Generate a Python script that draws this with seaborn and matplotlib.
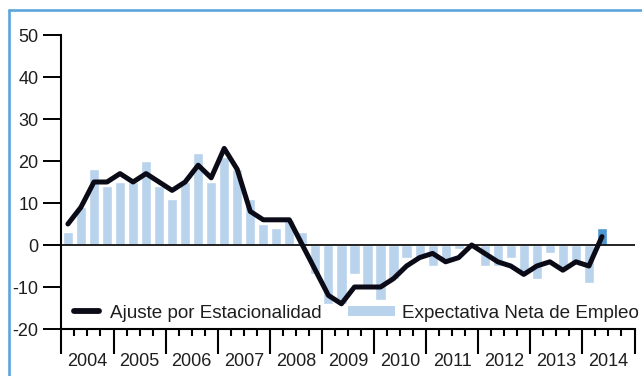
import numpy as np
import pandas as pd
import matplotlib
matplotlib.use("Agg")
import matplotlib.pyplot as plt
import matplotlib.transforms as mtransforms
from matplotlib.lines import Line2D
from matplotlib.patches import Patch
import seaborn as sns

# Quarterly periods 2004-T1 .. 2014-T2
anios = list(range(2004, 2015))
trimestres = [f"{a}-T{q}" for a in anios for q in range(1, 5)][:42]

# Net employment outlook (bars) and seasonally adjusted series (line)
expectativa = [3, 9, 18, 14, 15, 15, 20, 14, 11, 15, 22, 15, 21, 18, 11, 5,
               4, 6, 3, -7, -14, -14, -7, -10, -13, -8, -3, -3, -5, -4, -1, 0,
               -5, -5, -3, -7, -8, -2, -6, -4, -9, 4]
ajuste = [5, 9, 15, 15, 17, 15, 17, 15, 13, 15, 19, 16, 23, 18, 8, 6,
          6, 6, 0, -6, -12, -14, -10, -10, -10, -8, -5, -3, -2, -4, -3, 0,
          -2, -4, -5, -7, -5, -4, -6, -4, -5, 2]

df = pd.DataFrame({"trimestre": trimestres,
                   "expectativa": expectativa,
                   "ajuste": ajuste})
# position on a quarter axis starting at 2004-T1 (bar centred in its quarter)
df["pos"] = [(int(t[:4]) - 2004) * 4 + int(t[-1]) - 0.5 for t in df["trimestre"]]
df["serie"] = ["ultimo" if i == len(df) - 1 else "historico" for i in range(len(df))]

sns.set_theme(style="white")
plt.rcParams["font.family"] = ["Liberation Sans", "DejaVu Sans"]
plt.rcParams["axes.unicode_minus"] = False

C_BAR = "#b9d3ec"
C_LAST = "#4f97d1"
C_LINE = "#0b0b18"
C_TEXT = "#1e1e1e"

fig = plt.figure(figsize=(6.42, 3.76), dpi=100)
ax = fig.add_axes([61.4 / 642, 47 / 376, (634.5 - 61.4) / 642, 294 / 376])

sns.barplot(data=df, x="pos", y="expectativa", hue="serie",
            palette={"historico": C_BAR, "ultimo": C_LAST},
            native_scale=True, width=0.78, dodge=False, legend=False,
            saturation=1, ax=ax, zorder=1)
ax.axhline(0, color="#111111", lw=1.3, zorder=2)
sns.lineplot(data=df, x="pos", y="ajuste", color=C_LINE, lw=3.6, ax=ax,
             zorder=3)

ax.set_xlim(0, 44)
ax.set_ylim(-20, 50)
ax.set_xlabel("")
ax.set_ylabel("")

ax.set_yticks(range(-20, 51, 10))
ax.set_xticks(range(0, 45, 4))
ax.set_xticklabels([])
ax.set_xticks([q for q in range(45) if q % 4], minor=True)

ax.tick_params(axis="x", which="major", bottom=True, length=18, width=1.5,
               color="black", labelbottom=False)
ax.tick_params(axis="x", which="minor", bottom=True, length=5, width=1.5,
               color="black")
ax.tick_params(axis="y", left=True, length=13, width=1.4, color="black",
               pad=3.6, labelsize=13, labelcolor=C_TEXT)

for side in ("top", "right"):
    ax.spines[side].set_visible(False)
for side in ("left", "bottom"):
    ax.spines[side].set_color("black")
    ax.spines[side].set_linewidth(1.5)

# year labels centred in each year span
trans = mtransforms.blended_transform_factory(ax.transData, ax.transAxes)
for a in anios:
    ax.text((a - 2004) * 4 + 2, -0.112, str(a), transform=trans,
            ha="center", va="center", fontsize=13, color=C_TEXT)

# legends
h_line = Line2D([], [], color=C_LINE, lw=4.2, solid_capstyle="round")
leg1 = ax.legend([h_line], ["Ajuste por Estacionalidad"], loc="center left",
                 bbox_to_anchor=((74.4 - 61.4) / 573, 0.054), frameon=False,
                 handlelength=1.3, handletextpad=0.6, borderpad=0,
                 borderaxespad=0, fontsize=13.6, labelcolor=C_TEXT)
ax.add_artist(leg1)
h_bar = Patch(facecolor=C_BAR, edgecolor="none")
ax.legend([h_bar], ["Expectativa Neta de Empleo"], loc="center left",
          bbox_to_anchor=((348 - 61.4) / 573, 0.054), frameon=False,
          handlelength=2.5, handleheight=0.5, handletextpad=0.35,
          borderpad=0, borderaxespad=0, fontsize=13.6, labelcolor=C_TEXT)

# light blue frame (top and left edges)
C_FRAME = "#5ca6dd"
fig.add_artist(Line2D([8.7 / 642, 1], [1 - 10 / 376, 1 - 10 / 376],
                      transform=fig.transFigure, color=C_FRAME, lw=1.9))
fig.add_artist(Line2D([8.7 / 642, 8.7 / 642], [0, 1 - 10 / 376],
                      transform=fig.transFigure, color=C_FRAME, lw=1.9))

fig.savefig("out.png", dpi=100)
